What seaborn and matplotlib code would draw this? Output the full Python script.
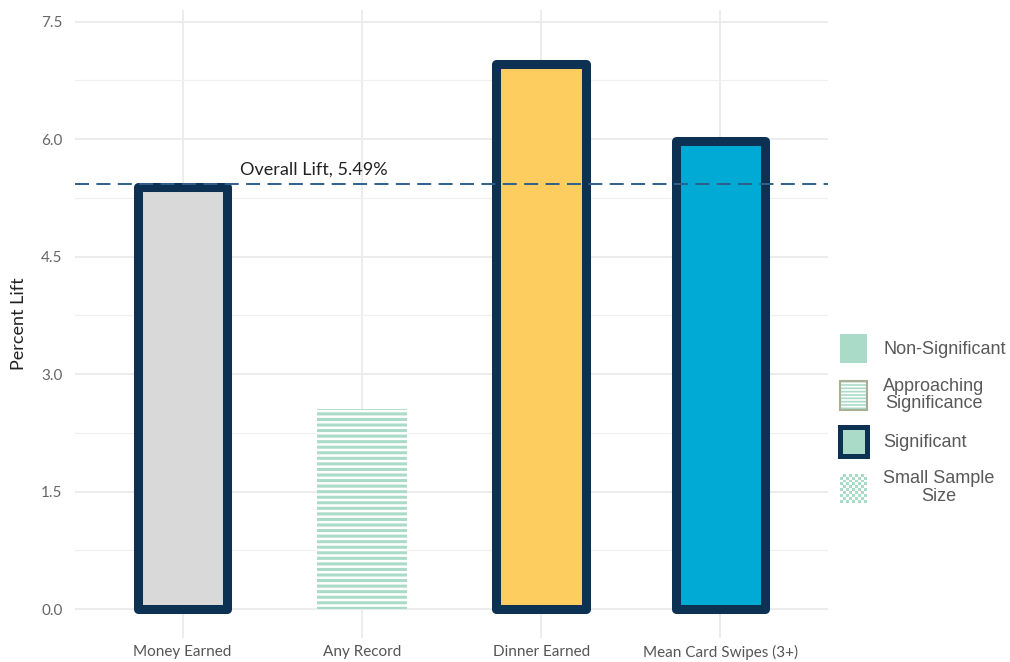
import matplotlib
matplotlib.use("Agg")
import matplotlib.pyplot as plt
import seaborn as sns
import pandas as pd
from matplotlib.patches import Patch, Rectangle
from matplotlib.legend_handler import HandlerBase
from matplotlib.ticker import MultipleLocator

# ---- data ----
categories = ["Money Earned", "Any Record", "Dinner Earned", "Mean Card Swipes (3+)"]
lift = [5.39, 2.56, 6.96, 5.98]
significance = ["Significant", "Approaching Significance", "Significant", "Significant"]
fill_colors = ["#d9d9d9", "#ffffff", "#fecd60", "#01aad5"]
overall_lift = 5.43
overall_label = "Overall Lift, 5.49%"
legend_labels = ["Non-Significant", "Approaching\nSignificance", "Significant", "Small Sample\nSize"]
y_ticks = [0.0, 1.5, 3.0, 4.5, 6.0, 7.5]

navy = "#0c3152"
mint = "#aadbc8"
grid_col = "#ebebeb"

sns.set_theme(style="whitegrid")
plt.rcParams["font.family"] = ["Lato", "DejaVu Sans"]
plt.rcParams["hatch.linewidth"] = 2.2

fig = plt.figure(figsize=(10.1, 6.62), dpi=100)
ax = fig.add_axes([75 / 1010, 24 / 662, 753 / 1010, 628 / 662])

df = pd.DataFrame({"category": categories, "lift": lift})
sns.barplot(data=df, x="category", y="lift", hue="category", palette=fill_colors,
            legend=False, width=0.5, saturation=1, ax=ax)

for patch, sig in zip(ax.patches, significance):
    if sig == "Significant":
        patch.set_edgecolor(navy)
        patch.set_linewidth(6.5)
        patch.set_joinstyle("round")
    else:
        patch.set_facecolor("white")
        patch.set_edgecolor(mint)
        patch.set_hatch("---")
        patch.set_linewidth(0)
    patch.set_zorder(3)

ax.axhline(overall_lift, color="#2f5f8a", lw=1.4, ls=(0, (7.2, 3.8)), zorder=5)
ax.text(0.32, 5.61, overall_label, fontsize=13, color="#222222", va="center", ha="left")

ax.set_xlim(-0.6, 3.6)
ax.set_ylim(-0.37, 7.65)
ax.set_yticks(y_ticks)
ax.set_yticklabels([f"{v:.1f}" for v in y_ticks])
ax.yaxis.set_minor_locator(MultipleLocator(0.75))
ax.grid(which="major", color=grid_col, lw=1.3)
ax.grid(which="minor", axis="y", color="#f0f0f0", lw=0.9)
ax.xaxis.grid(True, which="major", color=grid_col, lw=1.3)
for s in ax.spines.values():
    s.set_visible(False)
ax.tick_params(axis="both", which="both", length=0)
ax.tick_params(axis="y", pad=9, labelsize=11, labelcolor="#666666")
ax.tick_params(axis="x", pad=5, labelsize=11, labelcolor="#555555")
ax.set_xlabel("")
ax.set_ylabel("Percent Lift", fontsize=13, color="#222222", labelpad=10)


class CheckerHandler(HandlerBase):
    def create_artists(self, legend, orig_handle, xdescent, ydescent, width, height,
                       fontsize, trans):
        nx, ny = 9, 10
        cw, ch = width / nx, height / ny
        arts = []
        for i in range(nx):
            for j in range(ny):
                if (i + j) % 2 == 0:
                    arts.append(Rectangle((-xdescent + i * cw, -ydescent + j * ch), cw, ch,
                                          facecolor=orig_handle.get_facecolor(),
                                          edgecolor="none", lw=0, transform=trans))
        return arts


plt.rcParams["hatch.linewidth"] = 1.2
h_non = Patch(facecolor=mint, edgecolor="none", lw=0)
h_app_fill = Patch(facecolor="white", edgecolor=mint, hatch="-----", lw=0)
h_app_edge = Patch(facecolor="none", edgecolor="#a9ae95", lw=1.5)
h_sig = Patch(facecolor=mint, edgecolor=navy, lw=3.6)
h_small = Patch(facecolor=mint, edgecolor="none")

leg = fig.legend(handles=[h_non, (h_app_fill, h_app_edge), h_sig, h_small],
                 labels=legend_labels,
                 handler_map={h_small: CheckerHandler()},
                 loc="upper left", bbox_to_anchor=(840 / 1010, 1 - 334 / 662),
                 frameon=False, prop={"family": "Liberation Sans", "size": 13},
                 handlelength=1.5, handleheight=2.1, handletextpad=0.9,
                 labelspacing=0.8, borderpad=0, borderaxespad=0)
for t in leg.get_texts():
    t.set_color("#595959")
    t.set_multialignment("center")
    t.set_linespacing(1.05)

fig.savefig("out.png", dpi=100)
